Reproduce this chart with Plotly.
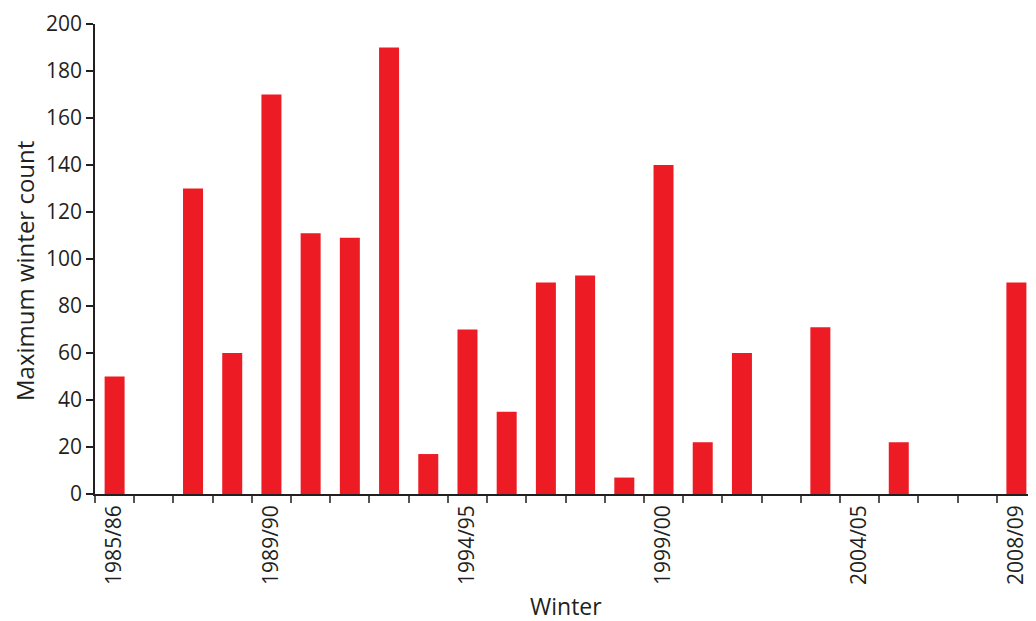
import plotly.graph_objects as go

winters = ["1985/86", "1986/87", "1987/88", "1988/89", "1989/90", "1990/91", "1991/92",
           "1992/93", "1993/94", "1994/95", "1995/96", "1996/97", "1997/98", "1998/99",
           "1999/00", "2000/01", "2001/02", "2002/03", "2003/04", "2004/05", "2005/06",
           "2006/07", "2007/08", "2008/09"]
counts = [50, 0, 130, 60, 170, 111, 109, 190, 17, 70, 35, 90, 93, 7,
          140, 22, 60, 0, 71, 0, 22, 0, 0, 90]
labelled = ["1985/86", "1989/90", "1994/95", "1999/00", "2004/05", "2008/09"]

xpos = list(range(len(winters)))
tickvals = [winters.index(w) for w in labelled]

txt = "#231f20"
font = "Open Sans"

fig = go.Figure(go.Bar(x=xpos, y=counts, marker_color="#ED1C24",
                       marker_line_width=0, width=0.51))

# page body has an 8px margin, so the figure is offset by 8px
fig.update_layout(
    width=1028, height=613,
    margin=dict(l=87, r=0, t=16, b=127),
    paper_bgcolor="white", plot_bgcolor="white",
    font=dict(family=font, color=txt, size=20),
    showlegend=False,
)
fig.update_xaxes(
    range=[-0.5, 23.5],
    tickmode="array", tickvals=tickvals, ticktext=labelled,
    tickangle=-90, ticks="", ticklabelstandoff=1,
    tickfont=dict(size=21),
    showline=True, linecolor=txt, linewidth=1.5,
    showgrid=False, zeroline=False,
    minor=dict(tickmode="linear", tick0=-0.5, dtick=1, ticks="outside",
               ticklen=7, tickwidth=1.5, tickcolor="#555555", showgrid=False),
    automargin=False,
)
fig.update_yaxes(
    range=[0, 200], tickmode="linear", tick0=0, dtick=20,
    ticks="outside", ticklen=7, tickwidth=1.5, tickcolor=txt,
    tickfont=dict(size=21),
    showline=True, linecolor=txt, linewidth=1.5,
    showgrid=False, zeroline=False,
    automargin=False,
)
fig.add_annotation(text="Winter", xref="paper", yref="paper", x=0.5, y=-0.2383,
                   xanchor="center", yanchor="middle", showarrow=False,
                   font=dict(size=23, color=txt))
fig.add_annotation(text="Maximum winter count", xref="paper", yref="paper",
                   x=-0.0744, y=0.4745, xanchor="center", yanchor="middle",
                   textangle=-90, showarrow=False, font=dict(size=24, color=txt))

fig.write_html("out.html")
